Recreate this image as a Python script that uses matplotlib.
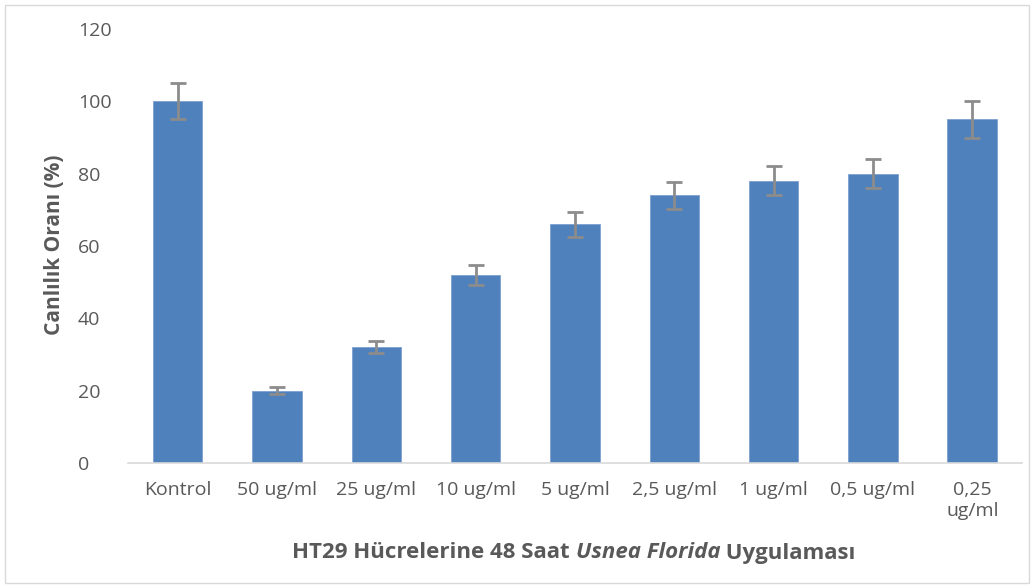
import matplotlib
matplotlib.use("Agg")
import matplotlib.pyplot as plt
from matplotlib.patches import Rectangle

categories = ["Kontrol", "50 ug/ml", "25 ug/ml", "10 ug/ml", "5 ug/ml",
              "2,5 ug/ml", "1 ug/ml", "0,5 ug/ml", "0,25\nug/ml"]
values = [100, 20, 32, 52, 66, 74, 78, 80, 95]
errors = [5, 1, 1.7, 2.8, 3.5, 3.7, 4, 4, 5]
yticks = [0, 20, 40, 60, 80, 100, 120]

W, H = 1035, 587
fig = plt.figure(figsize=(W / 100, H / 100), dpi=100)
plt.rcParams['font.family'] = ['Open Sans', 'DejaVu Sans']
txt = '#595959'

ax = fig.add_axes([128 / W, (H - 463) / H, (1022 - 128) / W, (463 - 29) / H])
x = list(range(len(categories)))
ax.bar(x, values, width=0.5, color='#4F81BD', edgecolor='#7EA1CF', linewidth=0.6, zorder=2)
eb = ax.errorbar(x, values, yerr=errors, fmt='none', ecolor='#8C8C8C', elinewidth=2.0,
                 capsize=6, capthick=2.0, zorder=3)
for cap in eb[1]:
    cap.set_color('#5F5F5F')

ax.set_xlim(-0.5, len(categories) - 0.5)
ax.set_ylim(0, 120)
ax.set_yticks(yticks)
ax.set_yticklabels([str(t) for t in yticks])
ax.set_xticks(x)
ax.set_xticklabels(categories, linespacing=1.2)
for s in ['top', 'right', 'left']:
    ax.spines[s].set_visible(False)
ax.spines['bottom'].set_color('#D9D9D9')
ax.spines['bottom'].set_linewidth(1.2)
ax.tick_params(axis='both', length=0, colors=txt, labelsize=14)
ax.tick_params(axis='x', pad=13)
ax.tick_params(axis='y', pad=36)
for lab in ax.get_yticklabels():
    lab.set_horizontalalignment('left')

fig.text(55 / W, 1 - 245 / H, "Canlılık Oranı (%)", rotation=90, ha='center', va='center',
         fontsize=15, fontweight='bold', color=txt)

# x-axis title with italic part
parts = [("HT29 Hücrelerine 48 Saat ", 'normal'), ("Usnea Florida", 'italic'), (" Uygulaması", 'normal')]
fig.canvas.draw()
r = fig.canvas.get_renderer()
texts = []
for s, st in parts:
    t = fig.text(0, 1 - 553 / H, s, fontsize=16, fontweight='bold', style=st, color=txt,
                 ha='left', va='center')
    texts.append(t)
widths = [t.get_window_extent(r).width for t in texts]
total = sum(widths)
cx = 574
start = cx - total / 2
for t, w in zip(texts, widths):
    t.set_x(start / W)
    start += w

fig.patches.append(Rectangle((5 / W, 4 / H), (1029 - 5) / W, (582 - 4) / H,
                             transform=fig.transFigure, fill=False, edgecolor='#D9D9D9',
                             linewidth=1))
fig.savefig("out.png", dpi=100)
